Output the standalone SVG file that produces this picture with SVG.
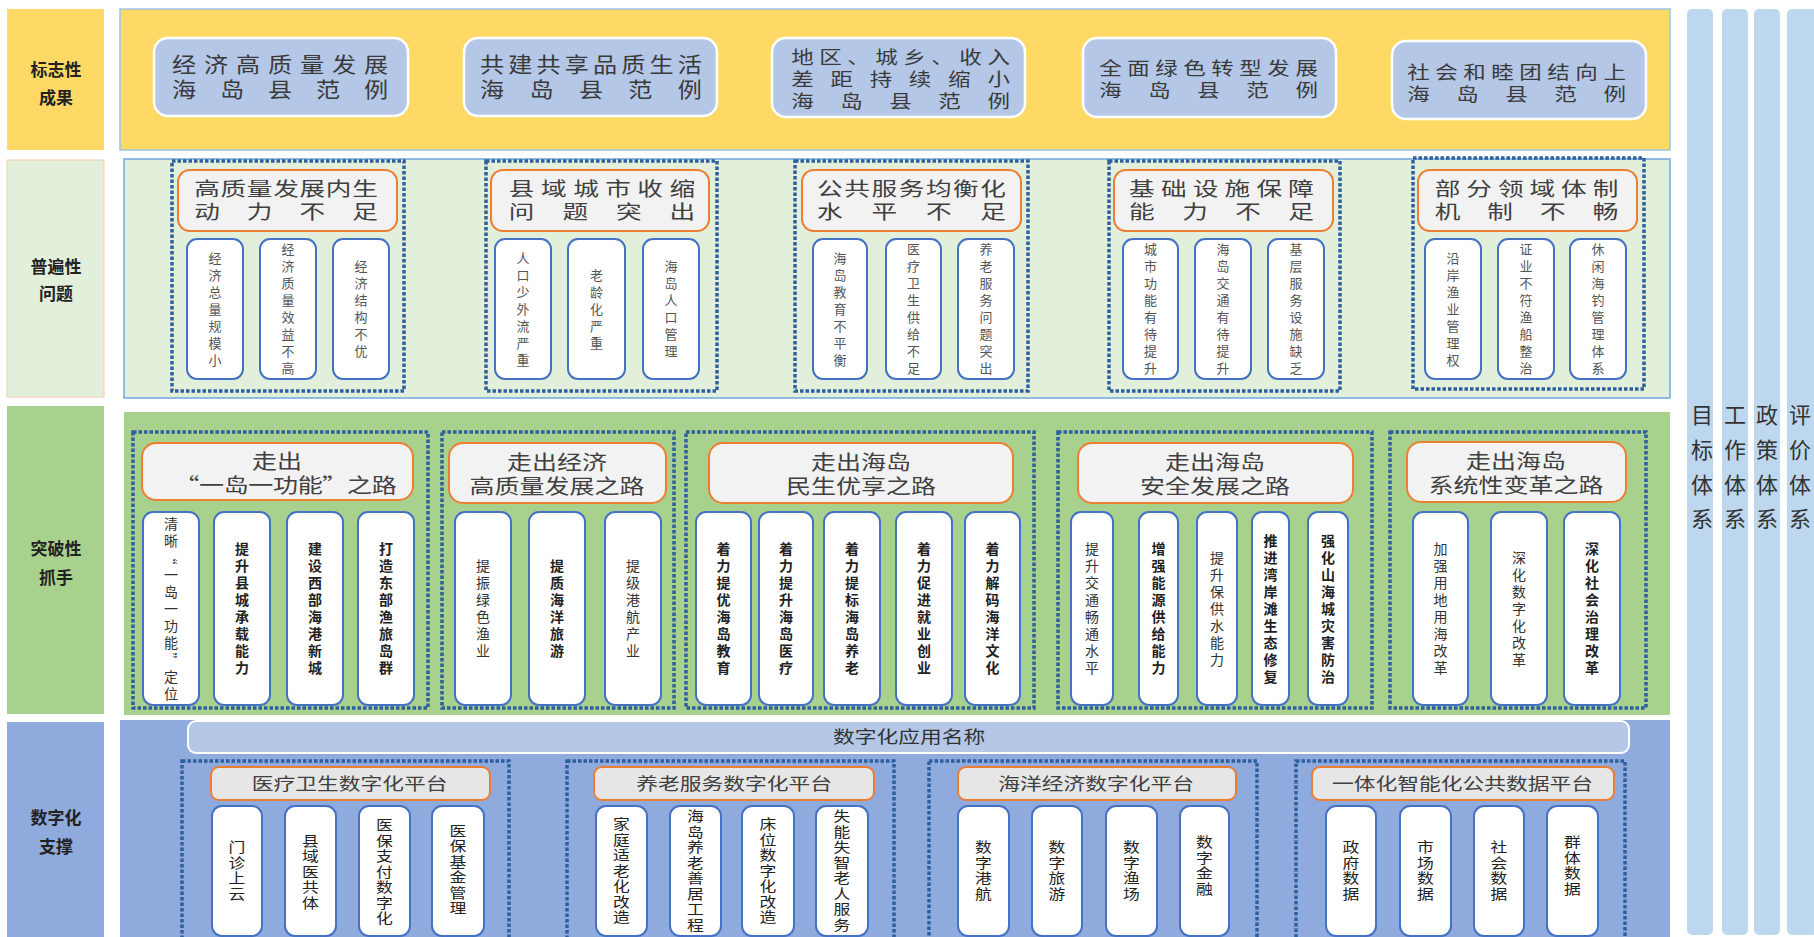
<svg xmlns="http://www.w3.org/2000/svg" width="1814" height="937" viewBox="0 0 1814 937">
<style>
text{font-family:"Noto Sans CJK SC","Noto Sans",sans-serif;fill:#333}
.lab{font-size:17px;font-weight:bold;fill:#222;text-anchor:middle}
.b1{fill:#b4c7e7;stroke:#fff;stroke-width:2.5}
.t1{font-size:21px;fill:#3a3a3a;text-anchor:middle}
.t1s{font-size:18px;fill:#3a3a3a;text-anchor:middle}
.grp{fill:none;stroke:#2e5f9e;stroke-width:3.5;stroke-dasharray:3.5 2}
.hd{fill:#f2f2f2;stroke:#ed7d31;stroke-width:2}
.hd4{fill:#e6e6e6;stroke:#ed7d31;stroke-width:2}
.it{fill:#fff;stroke:#4472c4;stroke-width:2}
.ht2{font-size:19px;fill:#404040;text-anchor:middle}
.ht3{font-size:20px;fill:#404040;text-anchor:middle}
.ht4{font-size:17px;fill:#404040;text-anchor:middle}
.v{writing-mode:vertical-rl;text-anchor:middle}
.v2{font-size:13px;fill:#555;letter-spacing:4px}
.v3{font-size:14px;fill:#333;letter-spacing:3px}
.v3b{font-size:14px;fill:#222;letter-spacing:3px;font-weight:bold}
.v4{font-size:14px;fill:#222;letter-spacing:1.5px}
.col{fill:#bdd7ee}
.ct{font-size:22px;fill:#333;text-anchor:middle}
</style>

<g id="right-columns">
<rect class="col" x="1687" y="9" width="26" height="926" rx="5"/>
<rect class="col" x="1722" y="9" width="26" height="926" rx="5"/>
<rect class="col" x="1754" y="9" width="26" height="926" rx="5"/>
<rect class="col" x="1787" y="9" width="30" height="926" rx="5"/>
<text class="ct" x="1702" y="423">目</text><text class="ct" x="1702" y="458">标</text><text class="ct" x="1702" y="493">体</text><text class="ct" x="1702" y="527">系</text>
<text class="ct" x="1735" y="423">工</text><text class="ct" x="1735" y="458">作</text><text class="ct" x="1735" y="493">体</text><text class="ct" x="1735" y="527">系</text>
<text class="ct" x="1767" y="423">政</text><text class="ct" x="1767" y="458">策</text><text class="ct" x="1767" y="493">体</text><text class="ct" x="1767" y="527">系</text>
<text class="ct" x="1800" y="423">评</text><text class="ct" x="1800" y="458">价</text><text class="ct" x="1800" y="493">体</text><text class="ct" x="1800" y="527">系</text>
</g>

<!-- Band 1 -->
<g id="band1">
<rect x="7" y="9" width="97" height="141" fill="#ffd966"/>
<text class="lab" x="56" y="76">标志性</text><text class="lab" x="56" y="104">成果</text>
<rect x="120" y="9" width="1550" height="141" fill="#ffd966" stroke="#9dc3e6" stroke-width="1.5"/>
</g>
<g id="n1-1"><rect class="b1" x="154" y="38" width="254" height="78" rx="14"/>
<g transform="translate(280 0) scale(1.15 1)">
<text class="t1" x="0" y="72" textLength="188" lengthAdjust="spacing">经济高质量发展</text>
<text class="t1" x="0" y="97" textLength="188" lengthAdjust="spacing">海 岛 县 范 例</text></g></g>
<g id="n1-2"><rect class="b1" x="464" y="38" width="253" height="78" rx="14"/>
<g transform="translate(591 0) scale(1.15 1)">
<text class="t1" x="0" y="72" textLength="193" lengthAdjust="spacing">共建共享品质生活</text>
<text class="t1" x="0" y="97" textLength="193" lengthAdjust="spacing">海 岛 县 范 例</text></g></g>
<g id="n1-3"><rect class="b1" x="772" y="38" width="253" height="79" rx="14"/>
<g transform="translate(900.5 0) scale(1.25 1)">
<text class="t1s" x="0" y="64" textLength="175" lengthAdjust="spacing">地区、城乡、收入</text>
<text class="t1s" x="0" y="86" textLength="175" lengthAdjust="spacing">差距持续缩小</text>
<text class="t1s" x="0" y="108" textLength="175" lengthAdjust="spacing">海 岛 县 范 例</text></g></g>
<g id="n1-4"><rect class="b1" x="1083" y="38" width="253" height="79" rx="14"/>
<g transform="translate(1208.5 0) scale(1.25 1)">
<text class="t1s" x="0" y="75" textLength="175" lengthAdjust="spacing">全面绿色转型发展</text>
<text class="t1s" x="0" y="97" textLength="175" lengthAdjust="spacing">海 岛 县 范 例</text></g></g>
<g id="n1-5"><rect class="b1" x="1392" y="41" width="254" height="78" rx="14"/>
<g transform="translate(1516.5 0) scale(1.25 1)">
<text class="t1s" x="0" y="79" textLength="175" lengthAdjust="spacing">社会和睦团结向上</text>
<text class="t1s" x="0" y="101" textLength="175" lengthAdjust="spacing">海 岛 县 范 例</text></g></g>

<!-- Band 2 -->
<g id="band2">
<rect x="7" y="160" width="97" height="237" fill="#e2efda" stroke="#f8cbad" stroke-width="1"/>
<text class="lab" x="56" y="273">普遍性</text><text class="lab" x="56" y="300">问题</text>
<rect x="124" y="159" width="1546" height="239" fill="#e2efda" stroke="#6fa8dc" stroke-width="1.5"/>
</g>
<g id="n2-1"><rect class="grp" x="172" y="161" width="232" height="230"/>
<rect class="hd" x="178" y="170" width="219" height="61" rx="12"/>
<g transform="translate(286 0) scale(1.35 1)">
<text class="ht2" x="0" y="196" textLength="136" lengthAdjust="spacing">高质量发展内生</text>
<text class="ht2" x="0" y="219" textLength="136" lengthAdjust="spacing">动 力 不 足</text></g>
<rect class="it" x="187" y="239" width="56" height="140" rx="10"/>
<rect class="it" x="260" y="239" width="56" height="140" rx="10"/>
<rect class="it" x="333" y="239" width="56" height="140" rx="10"/>
<text class="v v2" x="215" y="311">经济总量规模小</text>
<text class="v v2" x="288" y="311">经济质量效益不高</text>
<text class="v v2" x="361" y="311">经济结构不优</text></g>
<g id="n2-2"><rect class="grp" x="486" y="161" width="231" height="230"/>
<rect class="hd" x="491" y="170" width="218" height="61" rx="12"/>
<g transform="translate(602 0) scale(1.35 1)">
<text class="ht2" x="0" y="196" textLength="138" lengthAdjust="spacing">县域城市收缩</text>
<text class="ht2" x="0" y="219" textLength="138" lengthAdjust="spacing">问 题 突 出</text></g>
<rect class="it" x="495" y="239" width="56" height="140" rx="10"/>
<rect class="it" x="568" y="239" width="57" height="140" rx="10"/>
<rect class="it" x="643" y="239" width="56" height="140" rx="10"/>
<text class="v v2" x="523" y="311">人口少外流严重</text>
<text class="v v2" x="596.5" y="311">老龄化严重</text>
<text class="v v2" x="671" y="311">海岛人口管理</text></g>
<g id="n2-3"><rect class="grp" x="795" y="161" width="233" height="230"/>
<rect class="hd" x="802" y="170" width="219" height="61" rx="12"/>
<g transform="translate(911.5 0) scale(1.35 1)">
<text class="ht2" x="0" y="196" textLength="140" lengthAdjust="spacing">公共服务均衡化</text>
<text class="ht2" x="0" y="219" textLength="140" lengthAdjust="spacing">水 平 不 足</text></g>
<rect class="it" x="813" y="239" width="54" height="140" rx="10"/>
<rect class="it" x="886" y="239" width="55" height="140" rx="10"/>
<rect class="it" x="958" y="239" width="56" height="140" rx="10"/>
<text class="v v2" x="840" y="311">海岛教育不平衡</text>
<text class="v v2" x="913.5" y="311">医疗卫生供给不足</text>
<text class="v v2" x="986" y="311">养老服务问题突出</text></g>
<g id="n2-4"><rect class="grp" x="1109" y="161" width="231" height="230"/>
<rect class="hd" x="1114" y="170" width="219" height="61" rx="12"/>
<g transform="translate(1221.5 0) scale(1.35 1)">
<text class="ht2" x="0" y="196" textLength="137" lengthAdjust="spacing">基础设施保障</text>
<text class="ht2" x="0" y="219" textLength="137" lengthAdjust="spacing">能 力 不 足</text></g>
<rect class="it" x="1123" y="239" width="55" height="140" rx="10"/>
<rect class="it" x="1195" y="239" width="56" height="140" rx="10"/>
<rect class="it" x="1268" y="239" width="56" height="140" rx="10"/>
<text class="v v2" x="1150.5" y="311">城市功能有待提升</text>
<text class="v v2" x="1223" y="311">海岛交通有待提升</text>
<text class="v v2" x="1296" y="311">基层服务设施缺乏</text></g>
<g id="n2-5"><rect class="grp" x="1413" y="158" width="231" height="231"/>
<rect class="hd" x="1418" y="170" width="219" height="61" rx="12"/>
<g transform="translate(1526.5 0) scale(1.35 1)">
<text class="ht2" x="0" y="196" textLength="136" lengthAdjust="spacing">部分领域体制</text>
<text class="ht2" x="0" y="219" textLength="136" lengthAdjust="spacing">机 制 不 畅</text></g>
<rect class="it" x="1425" y="239" width="56" height="140" rx="10"/>
<rect class="it" x="1498" y="239" width="56" height="140" rx="10"/>
<rect class="it" x="1570" y="239" width="56" height="140" rx="10"/>
<text class="v v2" x="1453" y="311">沿岸渔业管理权</text>
<text class="v v2" x="1526" y="311">证业不符渔船整治</text>
<text class="v v2" x="1598" y="311">休闲海钓管理体系</text></g>

<!-- Band 3 -->
<g id="band3">
<rect x="7" y="406" width="97" height="308" fill="#a9d18e"/>
<text class="lab" x="56" y="555">突破性</text><text class="lab" x="56" y="584">抓手</text>
<rect x="124" y="412" width="1546" height="303" fill="#a9d18e"/>
</g>
<g id="n3-1"><rect class="grp" x="133" y="432" width="295" height="276"/>
<rect class="hd" x="142" y="443" width="271" height="57" rx="14"/>
<g transform="translate(277 0) scale(1.25 1)"><text class="ht3" x="0" y="469">走出</text></g>
<g transform="translate(285.5 0) scale(1.25 1)"><text class="ht3" x="0" y="493" textLength="178" lengthAdjust="spacing">“一岛一功能”之路</text></g>
<rect class="it" x="143" y="512" width="56" height="193" rx="10"/>
<rect class="it" x="214" y="512" width="56" height="193" rx="10"/>
<rect class="it" x="287" y="512" width="56" height="193" rx="10"/>
<rect class="it" x="358" y="512" width="56" height="193" rx="10"/>
<text class="v v3" x="171" y="610">清晰“一岛一功能”定位</text>
<text class="v v3b" x="242" y="610">提升县城承载能力</text>
<text class="v v3b" x="315" y="610">建设西部海港新城</text>
<text class="v v3b" x="386" y="610">打造东部渔旅岛群</text></g>
<g id="n3-2"><rect class="grp" x="442" y="432" width="232" height="276"/>
<rect class="hd" x="449" y="443" width="217" height="60" rx="14"/>
<g transform="translate(557 0) scale(1.25 1)">
<text class="ht3" x="0" y="470">走出经济</text>
<text class="ht3" x="0" y="494">高质量发展之路</text></g>
<rect class="it" x="455" y="512" width="56" height="193" rx="10"/>
<rect class="it" x="529" y="512" width="56" height="193" rx="10"/>
<rect class="it" x="605" y="512" width="56" height="193" rx="10"/>
<text class="v v3" x="483" y="610">提振绿色渔业</text>
<text class="v v3b" x="557" y="610">提质海洋旅游</text>
<text class="v v3" x="633" y="610">提级港航产业</text></g>
<g id="n3-3"><rect class="grp" x="686" y="432" width="348" height="276"/>
<rect class="hd" x="709" y="443" width="304" height="60" rx="14"/>
<g transform="translate(861 0) scale(1.25 1)">
<text class="ht3" x="0" y="470">走出海岛</text>
<text class="ht3" x="0" y="494">民生优享之路</text></g>
<rect class="it" x="696" y="512" width="55" height="193" rx="10"/>
<rect class="it" x="759" y="512" width="54" height="193" rx="10"/>
<rect class="it" x="824" y="512" width="56" height="193" rx="10"/>
<rect class="it" x="896" y="512" width="56" height="193" rx="10"/>
<rect class="it" x="965" y="512" width="55" height="193" rx="10"/>
<text class="v v3b" x="723.5" y="610">着力提优海岛教育</text>
<text class="v v3b" x="786" y="610">着力提升海岛医疗</text>
<text class="v v3b" x="852" y="610">着力提标海岛养老</text>
<text class="v v3b" x="924" y="610">着力促进就业创业</text>
<text class="v v3b" x="992.5" y="610">着力解码海洋文化</text></g>
<g id="n3-4"><rect class="grp" x="1058" y="432" width="314" height="276"/>
<rect class="hd" x="1078" y="443" width="275" height="60" rx="14"/>
<g transform="translate(1215 0) scale(1.25 1)">
<text class="ht3" x="0" y="470">走出海岛</text>
<text class="ht3" x="0" y="494">安全发展之路</text></g>
<rect class="it" x="1071" y="512" width="42" height="193" rx="10"/>
<rect class="it" x="1139" y="512" width="39" height="193" rx="10"/>
<rect class="it" x="1197" y="512" width="40" height="193" rx="10"/>
<rect class="it" x="1252" y="512" width="37" height="193" rx="10"/>
<rect class="it" x="1308" y="512" width="40" height="193" rx="10"/>
<text class="v v3" x="1092" y="610">提升交通畅通水平</text>
<text class="v v3b" x="1158.5" y="610">增强能源供给能力</text>
<text class="v v3" x="1217" y="610">提升保供水能力</text>
<text class="v v3b" x="1270.5" y="610">推进湾岸滩生态修复</text>
<text class="v v3b" x="1328" y="610">强化山海城灾害防治</text></g>
<g id="n3-5"><rect class="grp" x="1390" y="432" width="256" height="276"/>
<rect class="hd" x="1407" y="442" width="219" height="60" rx="14"/>
<g transform="translate(1516 0) scale(1.25 1)">
<text class="ht3" x="0" y="469">走出海岛</text>
<text class="ht3" x="0" y="493">系统性变革之路</text></g>
<rect class="it" x="1413" y="512" width="55" height="193" rx="10"/>
<rect class="it" x="1491" y="512" width="56" height="193" rx="10"/>
<rect class="it" x="1564" y="512" width="56" height="193" rx="10"/>
<text class="v v3" x="1440.5" y="610">加强用地用海改革</text>
<text class="v v3" x="1519" y="610">深化数字化改革</text>
<text class="v v3b" x="1592" y="610">深化社会治理改革</text></g>

<!-- Band 4 -->
<g id="band4">
<rect x="7" y="722" width="97" height="215" fill="#8faadc"/>
<text class="lab" x="56" y="824">数字化</text><text class="lab" x="56" y="853">支撑</text>
<rect x="120" y="720" width="1550" height="217" fill="#8faadc"/>
</g>
<g id="n4-0"><rect x="188" y="721" width="1441" height="32" rx="8" fill="#b4c7e7" stroke="#fff" stroke-width="2"/>
<g transform="translate(909 0) scale(1.28 1)"><text class="ht4" x="0" y="743" style="fill:#333">数字化应用名称</text></g></g>
<g id="n4-1"><rect class="grp" x="182" y="761" width="327" height="180"/>
<rect class="hd4" x="211" y="767" width="279" height="33" rx="8"/>
<g transform="translate(349.5 0) scale(1.28 1)"><text class="ht4" x="0" y="790">医疗卫生数字化平台</text></g>
<rect class="it" x="212" y="806" width="50" height="130" rx="10"/>
<rect class="it" x="285" y="806" width="51" height="130" rx="10"/>
<rect class="it" x="359" y="806" width="51" height="130" rx="10"/>
<rect class="it" x="432" y="806" width="52" height="130" rx="10"/>
<text class="v v4" transform="translate(237 0) scale(1.2 1)" x="0" y="871">门诊上云</text>
<text class="v v4" transform="translate(310.5 0) scale(1.2 1)" x="0" y="872">县域医共体</text>
<text class="v v4" transform="translate(384.5 0) scale(1.2 1)" x="0" y="872">医保支付数字化</text>
<text class="v v4" transform="translate(458 0) scale(1.2 1)" x="0" y="870">医保基金管理</text></g>
<g id="n4-2"><rect class="grp" x="567" y="761" width="327" height="180"/>
<rect class="hd4" x="594" y="767" width="280" height="33" rx="8"/>
<g transform="translate(734 0) scale(1.28 1)"><text class="ht4" x="0" y="790">养老服务数字化平台</text></g>
<rect class="it" x="596" y="806" width="51" height="130" rx="10"/>
<rect class="it" x="670" y="806" width="51" height="130" rx="10"/>
<rect class="it" x="742" y="806" width="52" height="130" rx="10"/>
<rect class="it" x="816" y="806" width="52" height="130" rx="10"/>
<text class="v v4" transform="translate(621.5 0) scale(1.2 1)" x="0" y="871">家庭适老化改造</text>
<text class="v v4" transform="translate(695.5 0) scale(1.2 1)" x="0" y="871">海岛养老善居工程</text>
<text class="v v4" transform="translate(768 0) scale(1.2 1)" x="0" y="871">床位数字化改造</text>
<text class="v v4" transform="translate(842 0) scale(1.2 1)" x="0" y="871">失能失智老人服务</text></g>
<g id="n4-3"><rect class="grp" x="929" y="761" width="328" height="180"/>
<rect class="hd4" x="958" y="767" width="278" height="33" rx="8"/>
<g transform="translate(1096 0) scale(1.28 1)"><text class="ht4" x="0" y="790">海洋经济数字化平台</text></g>
<rect class="it" x="958" y="806" width="51" height="130" rx="10"/>
<rect class="it" x="1032" y="806" width="50" height="130" rx="10"/>
<rect class="it" x="1106" y="806" width="51" height="130" rx="10"/>
<rect class="it" x="1180" y="806" width="49" height="130" rx="10"/>
<text class="v v4" transform="translate(983.5 0) scale(1.2 1)" x="0" y="871">数字港航</text>
<text class="v v4" transform="translate(1057 0) scale(1.2 1)" x="0" y="871">数字旅游</text>
<text class="v v4" transform="translate(1131.5 0) scale(1.2 1)" x="0" y="871">数字渔场</text>
<text class="v v4" transform="translate(1204.5 0) scale(1.2 1)" x="0" y="866">数字金融</text></g>
<g id="n4-4"><rect class="grp" x="1296" y="761" width="329" height="180"/>
<rect class="hd4" x="1312" y="767" width="302" height="33" rx="8"/>
<g transform="translate(1462.5 0) scale(1.28 1)"><text class="ht4" x="0" y="790">一体化智能化公共数据平台</text></g>
<rect class="it" x="1326" y="806" width="50" height="130" rx="10"/>
<rect class="it" x="1400" y="806" width="51" height="130" rx="10"/>
<rect class="it" x="1474" y="806" width="50" height="130" rx="10"/>
<rect class="it" x="1547" y="806" width="51" height="130" rx="10"/>
<text class="v v4" transform="translate(1351 0) scale(1.2 1)" x="0" y="871">政府数据</text>
<text class="v v4" transform="translate(1425.5 0) scale(1.2 1)" x="0" y="871">市场数据</text>
<text class="v v4" transform="translate(1499 0) scale(1.2 1)" x="0" y="871">社会数据</text>
<text class="v v4" transform="translate(1572.5 0) scale(1.2 1)" x="0" y="866">群体数据</text></g>

<g id="connectors"></g>
</svg>
